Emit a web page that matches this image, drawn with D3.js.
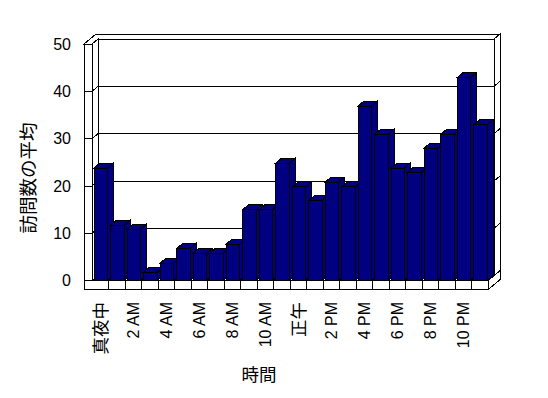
<!DOCTYPE html>
<html>
<head>
<meta charset="utf-8">
<script src="https://cdn.jsdelivr.net/npm/d3@7/dist/d3.min.js"></script>
<style>
  html, body { margin: 0; padding: 0; background: #fff; }
  svg { display: block; }
  text { font-family: "Liberation Sans", "Noto Sans CJK JP", sans-serif; fill: #000; }
</style>
</head>
<body>
<svg id="chart" width="548" height="398"></svg>
<script>
// ---- data ----
const hours = ["真夜中","1 AM","2 AM","3 AM","4 AM","5 AM","6 AM","7 AM","8 AM","9 AM","10 AM","11 AM",
               "正午","1 PM","2 PM","3 PM","4 PM","5 PM","6 PM","7 PM","8 PM","9 PM","10 PM","11 PM"];
const visits = [23.8, 11.7, 10.9, 1.8, 3.7, 6.8, 5.8, 5.8, 7.7, 15.0, 15.0, 24.8,
                19.8, 16.9, 20.8, 19.8, 36.9, 30.9, 23.8, 22.9, 28.0, 30.9, 42.9, 32.9];
const shownLabels = ["真夜中","2 AM","4 AM","6 AM","8 AM","10 AM","正午","2 PM","4 PM","6 PM","8 PM","10 PM"];
const yTicks = [0, 10, 20, 30, 40, 50];
const yTitle = "訪問数の平均";
const xTitle = "時間";

// ---- layout ----
const svg = d3.select("#chart");
const X0 = 92, X1 = 488;          // plot area at front plane
const wallL = 84;                 // outer front edge of left wall
const DX = 6, DY = -5;            // depth offset per depth unit
const floorThick = 9;

const x = d3.scaleBand().domain(hours).range([X0, X1]).padding(0);
const y = d3.scaleLinear().domain([0, 50]).range([280.7, 44]);
const y0 = y(0), yTop = y(50);

const g = svg.append("g").attr("shape-rendering", "crispEdges");
const line = d3.line();
function poly(pts, fill) {
  return g.append("path").attr("d", line(pts) + "Z").attr("fill", fill)
    .attr("stroke", "#000").attr("stroke-width", 1);
}

// back wall front face (depth 1)
poly([[X0 + DX, yTop + DY], [X1 + DX, yTop + DY], [X1 + DX, y0 + DY], [X0 + DX, y0 + DY]], "#fff");
// back wall right end face (depth 1..2)
poly([[X1 + DX, yTop + DY], [X1 + 2 * DX, yTop + 2 * DY], [X1 + 2 * DX, y0 + 2 * DY], [X1 + DX, y0 + DY]], "#fff");
// top face of left wall + back wall
poly([[wallL, yTop], [wallL + 2 * DX, yTop + 2 * DY], [X1 + 2 * DX, yTop + 2 * DY],
      [X1 + DX, yTop + DY], [X0 + DX, yTop + DY], [X0, yTop]], "#fff");
// left wall inner face
poly([[X0, yTop], [X0 + DX, yTop + DY], [X0 + DX, y0 + DY], [X0, y0]], "#fff");
// left wall front face
poly([[wallL, yTop], [X0, yTop], [X0, y0], [wallL, y0]], "#fff");
// floor front face and right end
poly([[wallL, y0], [X1, y0], [X1, y0 + floorThick], [wallL, y0 + floorThick]], "#fff");
poly([[X1, y0], [X1 + 2 * DX, y0 + 2 * DY], [X1 + 2 * DX, y0 + 2 * DY + floorThick], [X1, y0 + floorThick]], "#fff");

// gridlines wrapping over the walls
yTicks.filter(v => v > 0 && v < 50).forEach(v => {
  const yy = y(v);
  g.append("path")
    .attr("d", line([[wallL, yy], [X0, yy], [X0 + DX, yy + DY], [X1 + DX, yy + DY], [X1 + 2 * DX, yy + 2 * DY]]))
    .attr("fill", "none").attr("stroke", "#000");
});

// category dividers on floor front face
hours.slice(1).forEach(h => {
  const xx = x(h);
  g.append("line").attr("x1", xx).attr("x2", xx).attr("y1", y0).attr("y2", y0 + floorThick).attr("stroke", "#000");
});

// bars
const barW = 13.5, barOff = 2;
const barColor = "#000080";
hours.forEach((h, i) => {
  const bx0 = x(h) + barOff, bx1 = bx0 + barW;
  const bt = y(visits[i]);
  poly([[bx1, bt], [bx1 + DX, bt + DY], [bx1 + DX, y0 + DY], [bx1, y0]], barColor);   // side
  poly([[bx0, bt], [bx0 + DX, bt + DY], [bx1 + DX, bt + DY], [bx1, bt]], barColor);   // top
  poly([[bx0, bt], [bx1, bt], [bx1, y0], [bx0, y0]], barColor);                       // front
});

// y axis labels
const yAxis = d3.axisLeft(y).tickValues(yTicks).tickSize(0).tickPadding(13);
const ya = svg.append("g").attr("transform", `translate(${wallL},0)`).call(yAxis);
ya.select(".domain").remove();
ya.selectAll("text").attr("font-size", 16).attr("font-family", null).attr("fill", "#000");

// x axis labels
const xAxis = d3.axisBottom(x).tickValues(shownLabels).tickSize(0);
const xa = svg.append("g").attr("transform", `translate(0,302)`).call(xAxis);
xa.select(".domain").remove();
xa.selectAll("text")
  .attr("font-family", null)
  .attr("fill", "#000")
  .attr("font-size", d => /[A-Z]/.test(d) ? 16 : 17.5)
  .attr("transform", "rotate(-90)")
  .attr("text-anchor", "end")
  .attr("x", 0).attr("y", 0).attr("dy", "0.36em");

// titles
svg.append("text").attr("transform", "translate(28.5,178) rotate(-90)")
  .attr("text-anchor", "middle").attr("dy", "0.36em").attr("font-size", 18.5).attr("fill", "#000").text(yTitle);
svg.append("text").attr("x", 259).attr("y", 375)
  .attr("text-anchor", "middle").attr("dy", "0.36em").attr("font-size", 17.5).attr("fill", "#000").text(xTitle);
</script>
</body>
</html>
